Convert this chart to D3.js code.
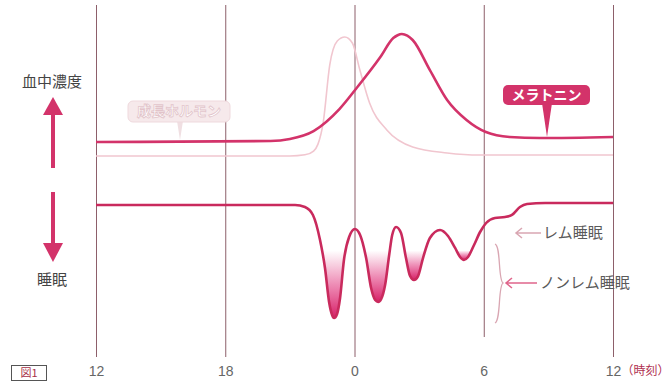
<!DOCTYPE html>
<html>
<head>
<meta charset="utf-8">
<script src="https://cdn.jsdelivr.net/npm/d3@7"></script>
<style>
  body { margin: 0; background: #fff; }
  svg { display: block; }
  .jp { font-family: "Noto Sans CJK JP", sans-serif; }
</style>
</head>
<body>
<svg id="chart"></svg>
<script>
// time axis (hours, 24 = midnight)
const tickHours = [12, 18, 24, 30, 36];
const tickLabels = ["12", "18", "0", "6", "12"];

// melatonin blood level (relative)
const melatoninHours = [12, 20.1, 21, 22.1, 23.3, 24.1, 25.2, 25.8, 26.0, 26.2, 26.45, 26.7, 27.5, 28.3, 29.2, 30.1, 31.2, 32.6, 36];
const melatoninLevel = [13.8, 14.6, 16.2, 22.3, 39.2, 55.4, 79.2, 93.8, 96.0, 96.9, 95.6, 92.3, 69.2, 46.2, 30.8, 21.5, 17.7, 16.9, 17.7];

// growth hormone blood level (relative)
const growthHours = [12, 21.0, 21.7, 22.1, 22.3, 22.55, 22.85, 23.2, 23.55, 23.9, 24.25, 24.7, 25.5, 26.7, 28.3, 29.8, 36];
const growthLevel = [3.1, 3.1, 4.0, 6.9, 12.0, 29.2, 73.0, 91.5, 94.6, 90.0, 69.2, 43.8, 23.1, 10.0, 5.4, 3.8, 3.8];

// sleep depth (0 = awake)
const sleepHours = [12, 21.24, 21.7, 22.07, 22.4, 22.63, 22.82, 22.96, 23.05, 23.19, 23.33, 23.51, 23.75, 24.02,
  24.26, 24.54, 24.77, 24.96, 25.1, 25.24, 25.42, 25.61, 25.75, 25.93, 26.16, 26.39, 26.58, 26.76, 26.95, 27.18,
  27.5, 27.97, 28.34, 28.67, 28.9, 29.08, 29.27, 29.55, 29.83, 30.11, 30.52, 30.99, 31.31, 31.68, 32.01, 32.85, 36];
const sleepDepth = [0, 0, 1.7, 8.3, 29.2, 52.5, 80.8, 91.7, 94.2, 90.8, 77.5, 45.8, 26.7, 20,
  25, 44.2, 69.2, 79.2, 80.8, 78.3, 66.7, 41.7, 25, 18.3, 23.3, 44.2, 59.2, 62.5, 59.2, 44.2,
  27.5, 20.8, 25.8, 35.8, 43.3, 45.8, 43.3, 33.3, 22.5, 15, 10.8, 10, 8.3, 1.7, -0.8, -1.7, -1.7];
const deepLevel = 38;

const width = 671, height = 383;
const pink = "#d3336a";

const svg = d3.select("#chart")
    .attr("width", width)
    .attr("height", height)
    .attr("viewBox", [0, 0, width, height]);

const x = d3.scaleLinear().domain([12, 36]).range([96, 613]);
const yConc = d3.scaleLinear().domain([0, 100]).range([160, 30]);
const ySleep = d3.scaleLinear().domain([0, 100]).range([205, 325]);

const melatonin = melatoninHours.map((h, i) => ({ h, v: melatoninLevel[i] }));
const growth = growthHours.map((h, i) => ({ h, v: growthLevel[i] }));
const sleep = sleepHours.map((h, i) => ({ h, v: sleepDepth[i] }));

// axis + vertical hour lines
svg.append("g")
    .attr("transform", "translate(0,357)")
    .call(d3.axisBottom(x)
        .tickValues(tickHours)
        .tickFormat((d, i) => tickLabels[i])
        .tickSize(-352)
        .tickPadding(9))
    .call(g => g.select(".domain").remove())
    .call(g => g.selectAll(".tick line").attr("stroke", "#8d5f6a").attr("stroke-width", 1))
    .call(g => g.selectAll(".tick").filter(d => d === 30).select("line").attr("y1", -20))
    .call(g => g.selectAll(".tick text")
        .attr("fill", "#666")
        .attr("font-family", "'Liberation Sans Narrow', 'Liberation Sans', sans-serif")
        .attr("font-size", 14))
    .call(g => g.selectAll(".tick").filter(d => d === 36).append("text")
        .attr("class", "jp")
        .attr("x", 8)
        .attr("y", 9)
        .attr("dy", "0.71em")
        .attr("text-anchor", "start")
        .attr("fill", "#b0304f")
        .attr("font-size", 12)
        .text("（時刻）"));

// 図1 tag
svg.append("rect")
    .attr("x", 11.5).attr("y", 365.5).attr("width", 35).attr("height", 15)
    .attr("fill", "#fff").attr("stroke", "#555");
svg.append("text")
    .attr("class", "jp")
    .attr("x", 29).attr("y", 373).attr("dy", "0.35em")
    .attr("text-anchor", "middle").attr("font-size", 11).attr("fill", "#a83048")
    .text("図1");

// growth hormone
const lineConc = d3.line().x(d => x(d.h)).y(d => yConc(d.v)).curve(d3.curveMonotoneX);
svg.append("path")
    .datum(growth)
    .attr("fill", "none")
    .attr("stroke", "#f1c6cf")
    .attr("stroke-width", 1.6)
    .attr("d", lineConc);

// melatonin
svg.append("path")
    .datum(melatonin)
    .attr("fill", "none")
    .attr("stroke", pink)
    .attr("stroke-width", 2.6)
    .attr("d", lineConc);

// deep sleep fill, one gradient per trough
const defs = svg.append("defs");
const troughs = [];
let start = null;
sleep.forEach((d, i) => {
    if (d.v > deepLevel && start === null) start = i;
    if (d.v <= deepLevel && start !== null) { troughs.push([start - 1, i]); start = null; }
});

const areaDeep = d3.area()
    .x(d => x(d.h))
    .y0(ySleep(deepLevel))
    .y1(d => ySleep(d.v))
    .curve(d3.curveMonotoneX);

troughs.forEach(([a, b], k) => {
    const maxV = d3.max(sleep.slice(a, b + 1), d => d.v);
    const grad = defs.append("linearGradient")
        .attr("id", "deep" + k)
        .attr("gradientUnits", "userSpaceOnUse")
        .attr("x1", 0).attr("x2", 0)
        .attr("y1", ySleep(deepLevel)).attr("y2", ySleep(maxV));
    grad.append("stop").attr("offset", 0).attr("stop-color", "#e0307a").attr("stop-opacity", 0);
    grad.append("stop").attr("offset", 0.5).attr("stop-color", "#e0307a").attr("stop-opacity", 0.55);
    grad.append("stop").attr("offset", 1).attr("stop-color", "#d61f66").attr("stop-opacity", 1);

    defs.append("clipPath").attr("id", "clip" + k)
        .append("rect")
        .attr("x", x(sleep[a].h)).attr("width", x(sleep[b].h) - x(sleep[a].h))
        .attr("y", ySleep(deepLevel)).attr("height", 120);

    svg.append("path")
        .datum(sleep)
        .attr("clip-path", `url(#clip${k})`)
        .attr("fill", `url(#deep${k})`)
        .attr("d", areaDeep);
});

// sleep curve
svg.append("path")
    .datum(sleep)
    .attr("fill", "none")
    .attr("stroke", "#c92a5d")
    .attr("stroke-width", 2.6)
    .attr("d", d3.line().x(d => x(d.h)).y(d => ySleep(d.v)).curve(d3.curveMonotoneX));

// left side arrows and labels
svg.append("line")
    .attr("x1", 53).attr("x2", 53).attr("y1", 168).attr("y2", 112)
    .attr("stroke", pink).attr("stroke-width", 4);
svg.append("path").attr("d", "M43,115L63,115L53,97Z").attr("fill", pink);
svg.append("line")
    .attr("x1", 53).attr("x2", 53).attr("y1", 192).attr("y2", 246)
    .attr("stroke", pink).attr("stroke-width", 4);
svg.append("path").attr("d", "M43,243L63,243L53,262Z").attr("fill", pink);

svg.append("text").attr("class", "jp")
    .attr("x", 52).attr("y", 82).attr("dy", "0.35em")
    .attr("text-anchor", "middle").attr("font-size", 15).attr("fill", "#444")
    .text("血中濃度");
svg.append("text").attr("class", "jp")
    .attr("x", 52).attr("y", 280).attr("dy", "0.35em")
    .attr("text-anchor", "middle").attr("font-size", 15).attr("fill", "#444")
    .text("睡眠");

// melatonin tag
svg.append("path").attr("d", "M542,103L552,103L547,137Z").attr("fill", pink);
svg.append("rect")
    .attr("x", 503).attr("y", 85).attr("width", 87).attr("height", 20).attr("rx", 5)
    .attr("fill", pink);
svg.append("text").attr("class", "jp")
    .attr("x", 546.5).attr("y", 95).attr("dy", "0.35em")
    .attr("text-anchor", "middle").attr("font-size", 14).attr("font-weight", "bold").attr("fill", "#fff")
    .text("メラトニン");

// growth hormone tag
svg.append("path").attr("d", "M177,121L183,121L180,140Z").attr("fill", "#f0dfe2");
svg.append("rect")
    .attr("x", 128).attr("y", 101).attr("width", 102).attr("height", 21).attr("rx", 5)
    .attr("fill", "#f6e9eb").attr("stroke", "#efd9dd");
svg.append("text").attr("class", "jp")
    .attr("x", 179).attr("y", 111.5).attr("dy", "0.35em")
    .attr("text-anchor", "middle").attr("font-size", 14).attr("font-weight", "bold")
    .attr("fill", "#fff").attr("stroke", "#e2c4ca").attr("stroke-width", 0.8)
    .text("成長ホルモン");

// right annotations
function leftArrow(x1, x2, y, color) {
    svg.append("path")
        .attr("d", `M${x2},${y}H${x1}M${x1 + 6},${y - 5}L${x1},${y}L${x1 + 6},${y + 5}`)
        .attr("fill", "none").attr("stroke", color).attr("stroke-width", 1.5);
}
leftArrow(516, 541, 233, "#d9a6b2");
svg.append("text").attr("class", "jp")
    .attr("x", 543).attr("y", 233).attr("dy", "0.35em")
    .attr("font-size", 15).attr("fill", "#5a5a5a")
    .text("レム睡眠");

svg.append("path")
    .attr("d", "M495,244C501,246 498,280 503,283C498,286 501,320 495,323")
    .attr("fill", "none").attr("stroke", "#d9a6b2").attr("stroke-width", 1.3);
leftArrow(506, 537, 283, "#e0668c");
svg.append("text").attr("class", "jp")
    .attr("x", 540).attr("y", 283).attr("dy", "0.35em")
    .attr("font-size", 15).attr("fill", "#5a5a5a")
    .text("ノンレム睡眠");
</script>
</body>
</html>
